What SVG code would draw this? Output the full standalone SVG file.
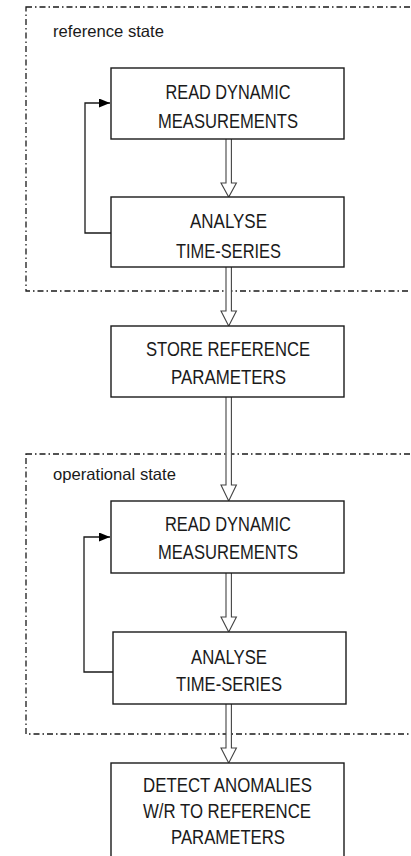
<svg xmlns="http://www.w3.org/2000/svg" width="411" height="856" viewBox="0 0 411 856">
<defs>
<style>
.bg{fill:#fff}
.box{fill:#fff;stroke:#1a1a1a;stroke-width:1.4}
.zone{fill:none;stroke:#1a1a1a;stroke-width:1.3;stroke-dasharray:6 3 1.5 3}
.t{font-family:"Liberation Sans",Arial,sans-serif;font-size:21px;fill:#1a1a1a;text-anchor:middle}
.lbl{font-family:"Liberation Sans",Arial,sans-serif;font-size:16.5px;fill:#1a1a1a}
.dbl{fill:#fff;stroke:#444;stroke-width:1.1;stroke-linejoin:miter}
.fb{fill:none;stroke:#1a1a1a;stroke-width:1.3}
</style>
<marker id="ah" markerWidth="12" markerHeight="10" refX="11" refY="4.5" orient="auto" markerUnits="userSpaceOnUse">
<path d="M0,0 L11,4.5 L0,9 Z" fill="#000"/>
</marker>
</defs>
<rect class="bg" x="0" y="0" width="411" height="856"/>
<g id="zone-reference">
<rect class="zone" x="26" y="7" width="400" height="284"/>
<text class="lbl" x="53" y="36.5" textLength="111" lengthAdjust="spacingAndGlyphs">reference state</text>
</g>
<g id="zone-operational">
<rect class="zone" x="26" y="454" width="400" height="280"/>
<text class="lbl" x="53" y="480" textLength="123" lengthAdjust="spacingAndGlyphs">operational state</text>
</g>
<g id="connectors">
<path class="dbl" d="M226,139 V183 H221 L228.7,197 L236.4,183 H231.4 V139"/>
<path class="dbl" d="M226,267 V311 H221 L228.7,326 L236.4,311 H231.4 V267"/>
<path class="dbl" d="M226,397 V485 H221 L228.7,501 L236.4,485 H231.4 V397"/>
<path class="dbl" d="M226,573 V617 H221 L228.7,632 L236.4,617 H231.4 V573"/>
<path class="dbl" d="M226,704 V748 H221 L228.7,763 L236.4,748 H231.4 V704"/>
<path class="fb" d="M111,233 H85 V103 H110" marker-end="url(#ah)"/>
<path class="fb" d="M113,672 H84 V537 H110" marker-end="url(#ah)"/>
</g>
<g id="read1">
<rect class="box" x="111" y="68" width="233" height="71"/>
<text class="t" x="228" y="99" textLength="125" lengthAdjust="spacingAndGlyphs">READ DYNAMIC</text>
<text class="t" x="228" y="128" textLength="140" lengthAdjust="spacingAndGlyphs">MEASUREMENTS</text>
</g>
<g id="analyse1">
<rect class="box" x="111" y="197" width="233" height="70"/>
<text class="t" x="228.5" y="228" textLength="77" lengthAdjust="spacingAndGlyphs">ANALYSE</text>
<text class="t" x="228.5" y="258" textLength="105" lengthAdjust="spacingAndGlyphs">TIME-SERIES</text>
</g>
<g id="store">
<rect class="box" x="111" y="326" width="233" height="71"/>
<text class="t" x="228" y="356" textLength="164" lengthAdjust="spacingAndGlyphs">STORE REFERENCE</text>
<text class="t" x="228.5" y="384" textLength="115" lengthAdjust="spacingAndGlyphs">PARAMETERS</text>
</g>
<g id="read2">
<rect class="box" x="111" y="501" width="233" height="72"/>
<text class="t" x="228" y="531" textLength="126" lengthAdjust="spacingAndGlyphs">READ DYNAMIC</text>
<text class="t" x="228" y="559" textLength="140" lengthAdjust="spacingAndGlyphs">MEASUREMENTS</text>
</g>
<g id="analyse2">
<rect class="box" x="113" y="632" width="233" height="72"/>
<text class="t" x="229" y="664" textLength="76" lengthAdjust="spacingAndGlyphs">ANALYSE</text>
<text class="t" x="229" y="691" textLength="106" lengthAdjust="spacingAndGlyphs">TIME-SERIES</text>
</g>
<g id="detect">
<rect class="box" x="111" y="763" width="233" height="100"/>
<text class="t" x="227.5" y="792" textLength="169" lengthAdjust="spacingAndGlyphs">DETECT ANOMALIES</text>
<text class="t" x="227" y="818" textLength="168" lengthAdjust="spacingAndGlyphs">W/R TO REFERENCE</text>
<text class="t" x="228" y="844" textLength="114" lengthAdjust="spacingAndGlyphs">PARAMETERS</text>
</g>
</svg>
